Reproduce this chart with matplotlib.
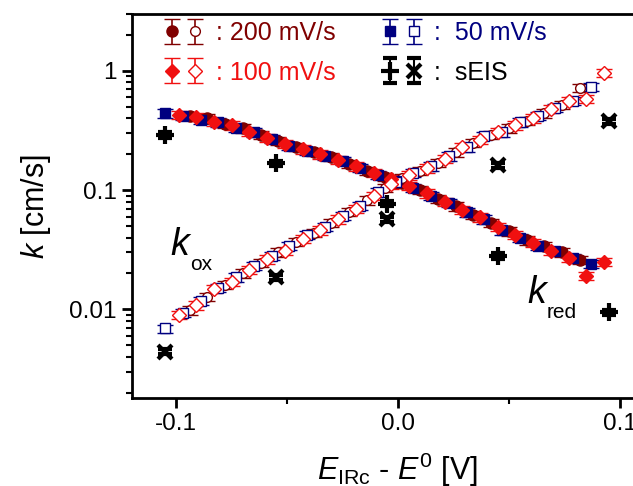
import numpy as np
import matplotlib
matplotlib.use('Agg')
import matplotlib.pyplot as plt
from matplotlib.ticker import MultipleLocator, LogLocator, NullFormatter, FuncFormatter, FormatStrFormatter
from matplotlib.legend_handler import HandlerTuple

plt.rcParams['font.family'] = ['Liberation Sans', 'DejaVu Sans']
plt.rcParams['mathtext.fontset'] = 'custom'
plt.rcParams['mathtext.rm'] = 'Liberation Sans'
plt.rcParams['mathtext.it'] = 'Liberation Sans:italic'
plt.rcParams['axes.unicode_minus'] = False

# 50 mV/s (squares)
E_50 = [-0.105, -0.097, -0.089, -0.081, -0.073, -0.065, -0.057, -0.049, -0.041, -0.033, -0.025, -0.017, -0.009,
        -0.001, 0.007, 0.015, 0.023, 0.031, 0.039, 0.047, 0.055, 0.063, 0.071, 0.079, 0.087]
kred_50 = [0.44, 0.42, 0.39, 0.37, 0.335, 0.305, 0.27, 0.235, 0.213, 0.195, 0.175, 0.153, 0.134,
           0.12, 0.104, 0.090, 0.078, 0.065, 0.057, 0.046, 0.040, 0.034, 0.031, 0.027, 0.024]
kox_50 = [0.0069, 0.0093, 0.0118, 0.0152, 0.0185, 0.0232, 0.028, 0.034, 0.042, 0.049, 0.061, 0.074, 0.096,
          0.118, 0.140, 0.158, 0.192, 0.228, 0.285, 0.305, 0.37, 0.42, 0.49, 0.56, 0.74]

# 100 mV/s (diamonds)
E_100 = [-0.099, -0.091, -0.083, -0.075, -0.067, -0.059, -0.051, -0.043, -0.035, -0.027, -0.019, -0.011, -0.003,
         0.005, 0.013, 0.021, 0.029, 0.037, 0.045, 0.053, 0.061, 0.069, 0.077, 0.085, 0.093]
kred_100 = [0.43, 0.41, 0.375, 0.35, 0.31, 0.275, 0.245, 0.22, 0.20, 0.18, 0.158, 0.14, 0.124,
            0.108, 0.094, 0.080, 0.068, 0.059, 0.049, 0.042, 0.036, 0.031, 0.027, 0.019, 0.025]
kox_100 = [0.0090, 0.0108, 0.0148, 0.0170, 0.0215, 0.0262, 0.031, 0.039, 0.046, 0.057, 0.070, 0.090, 0.112,
           0.133, 0.152, 0.183, 0.232, 0.265, 0.31, 0.35, 0.40, 0.48, 0.56, 0.58, 0.97]

# 200 mV/s (circles)
E_200 = [-0.094, -0.086, -0.078, -0.070, -0.062, -0.054, -0.046, -0.038, -0.030, -0.022, -0.014, -0.006,
         0.002, 0.010, 0.018, 0.026, 0.034, 0.042, 0.050, 0.058, 0.066, 0.074, 0.082]
kred_200 = [0.42, 0.40, 0.36, 0.33, 0.29, 0.26, 0.23, 0.21, 0.19, 0.166, 0.146, 0.13,
            0.114, 0.100, 0.085, 0.073, 0.062, 0.053, 0.045, 0.038, 0.034, 0.030, 0.026]
kox_200 = [0.0098, 0.0128, 0.0160, 0.0200, 0.0245, 0.030, 0.037, 0.044, 0.053, 0.066, 0.082, 0.104,
           0.126, 0.146, 0.170, 0.208, 0.25, 0.29, 0.33, 0.38, 0.44, 0.52, 0.72]

# sEIS
E_eis = [-0.105, -0.055, -0.005, 0.045, 0.095]
kred_eis = [0.29, 0.168, 0.077, 0.028, 0.0094]
kox_eis = [0.0044, 0.0186, 0.057, 0.162, 0.38]

rel_err = 0.08

c200 = '#800000'
c100 = '#f01010'
c50 = '#000080'

fig = plt.figure(figsize=(6.33, 4.86), dpi=100)
ax = fig.add_axes([0.2085, 0.181, 0.8404, 0.790])

def eb(x, y, marker, color, filled, ms=8, err=rel_err):
    y = np.array(y)
    return ax.errorbar(x, y, yerr=y * err, fmt=marker, ms=ms, color=color, mec=color,
                       mfc=color if filled else 'white', mew=1.0, ecolor=color,
                       elinewidth=1.2, capsize=6, capthick=1.3)

# drawing order: 200 under, then 50, 100 on top
h200r = eb(E_200, kred_200, 'o', c200, True, ms=8)
h200o = eb(E_200, kox_200, 'o', c200, False, ms=7)
h50r = eb(E_50, kred_50, 's', c50, True, ms=7.5)
h50o = eb(E_50, kox_50, 's', c50, False, ms=7)
h100r = eb(E_100, kred_100, 'D', c100, True, ms=7.5)
h100o = eb(E_100, kox_100, 'D', c100, False, ms=7)

hEr = ax.errorbar(E_eis, kred_eis, yerr=np.array(kred_eis) * 0.05, fmt='+', ms=13, mew=3, color='black',
                  elinewidth=1.5, capsize=5, capthick=1.5)
hEo = ax.errorbar(E_eis, kox_eis, yerr=np.array(kox_eis) * 0.05, fmt='x', ms=10, mew=3, color='black',
                  elinewidth=1.5, capsize=5, capthick=1.5)

ax.set_xlim(-0.12, 0.12)
ax.set_yscale('log')
ax.set_ylim(0.0018, 3.0)

ax.xaxis.set_major_locator(MultipleLocator(0.1))
ax.xaxis.set_minor_locator(MultipleLocator(0.05))
ax.xaxis.set_major_formatter(FormatStrFormatter('%.1f'))
ax.yaxis.set_major_locator(LogLocator(base=10))
ax.yaxis.set_minor_locator(LogLocator(base=10, subs=np.arange(2, 10)))
ax.yaxis.set_major_formatter(FuncFormatter(lambda v, p: f'{v:g}'))
ax.yaxis.set_minor_formatter(NullFormatter())

for s in ax.spines.values():
    s.set_linewidth(2)
ax.tick_params(which='major', direction='out', length=7, width=2, labelsize=17.5, pad=4)
ax.tick_params(which='minor', direction='out', length=4, width=1.5)

ax.set_xlabel(r'$E_{\mathrm{IRc}}$ - $E^{0}$ [V]', fontsize=22, labelpad=11)
ax.set_ylabel(r'$k$ [cm/s]', fontsize=22, labelpad=12)

ax.text(0.073, 0.372, 'k', style='italic', fontsize=27, transform=ax.transAxes, va='baseline')
ax.text(0.109, 0.333, 'ox', fontsize=15, transform=ax.transAxes, va='baseline')
ax.text(0.744, 0.247, 'k', style='italic', fontsize=27, transform=ax.transAxes, va='baseline')
ax.text(0.780, 0.208, 'red', fontsize=15, transform=ax.transAxes, va='baseline')

handles = [(h200r, h200o), (h100r, h100o), (h50r, h50o), (hEr, hEo)]
labels = [': 200 mV/s', ': 100 mV/s', ':  50 mV/s', ':  sEIS']
leg = ax.legend(handles, labels, handler_map={tuple: HandlerTuple(ndivide=None, pad=0.0)},
                loc='upper left', bbox_to_anchor=(0.01, 1.04), ncol=2, frameon=False, fontsize=18,
                handlelength=1.9, handletextpad=0.35, columnspacing=1.7, labelspacing=0.62)
for t, c in zip(leg.get_texts(), [c200, c100, c50, 'black']):
    t.set_color(c)

fig.savefig('out.png', dpi=100)
